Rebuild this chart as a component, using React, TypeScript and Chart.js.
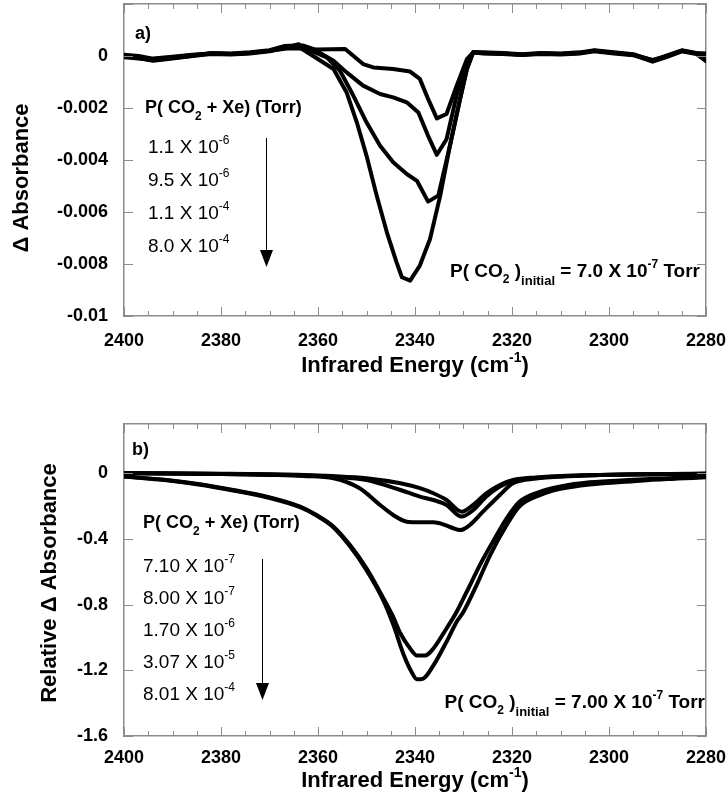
import React, { useEffect, useRef } from 'react';
import { Chart, registerables } from 'chart.js';

Chart.register(...registerables);

const FONT = '"Liberation Sans", Arial, Helvetica, sans-serif';
const FRAME_COLOR = '#8c8c8c';

// ---------- shared axis data ----------
const xTickValues = [2400, 2380, 2360, 2340, 2320, 2300, 2280];
const xMinorTicks = [2280, 2285, 2290, 2295, 2300, 2305, 2310, 2315, 2320, 2325, 2330, 2335, 2340, 2345, 2350, 2355, 2360, 2365, 2370, 2375, 2380, 2385, 2390, 2395, 2400];

// ---------- panel a) ----------
const topYTicks = [-0.01, -0.008, -0.006, -0.004, -0.002, 0, 0.002];
const topYTickLabels = ['-0.01', '-0.008', '-0.006', '-0.004', '-0.002', '0', ''];

const aX1 = [2400, 2397, 2394, 2390, 2386, 2382, 2378, 2374, 2370, 2366, 2362, 2360.3, 2354.4, 2350.7, 2348.6, 2344.5, 2341, 2339, 2337.3, 2335.5, 2333.5, 2331.4, 2329.3, 2328, 2326, 2322, 2318, 2314, 2310, 2306, 2303, 2299, 2295, 2291, 2288, 2285, 2282, 2280];
const aY1 = [0.00005, 0, -0.0001, -0.00003, 0.00005, 0.0001, 0.00008, 0.00012, 0.0002, 0.0003, 0.00028, 0.00025, 0.00027, -0.00031, -0.00044, -0.0005, -0.0006, -0.00088, -0.00165, -0.0024, -0.00223, -0.00114, -0.00012, 0.00014, 0.00012, 0.0001, 0.00006, 0.0001, 0.00008, 0.00012, 0.0002, 0.00012, 0.00005, -0.00015, 0, 0.0002, 0.0001, 0.0001];

const aX2 = [2400, 2397, 2394, 2390, 2386, 2382, 2378, 2374, 2370, 2366, 2363, 2361, 2356.8, 2354.1, 2350.7, 2347.2, 2344.5, 2341.7, 2339.3, 2337.3, 2335.5, 2333.5, 2331.4, 2329.3, 2328, 2326, 2322, 2318, 2314, 2310, 2306, 2303, 2299, 2295, 2291, 2288, 2285, 2282, 2280];
const aY2 = [0, -0.00005, -0.00012, -0.00005, 0.00003, 0.0001, 0.00008, 0.00012, 0.0002, 0.00035, 0.0004, 0.00027, -0.00018, -0.00063, -0.00114, -0.00146, -0.00159, -0.00178, -0.00217, -0.00307, -0.0038, -0.0032, -0.0015, -0.0002, 0.00014, 0.00012, 0.0001, 0.00005, 0.0001, 0.00008, 0.00012, 0.0002, 0.00012, 0.00005, -0.0002, 0, 0.0002, 0.0001, -0.0001];

const aX3 = [2400, 2397, 2394, 2390, 2386, 2382, 2378, 2374, 2370, 2366, 2364, 2362.3, 2358.2, 2355.5, 2352.7, 2350, 2347.2, 2344.5, 2341.7, 2339.6, 2337.3, 2335.2, 2332.8, 2330.7, 2329.3, 2328, 2326, 2322, 2318, 2314, 2310, 2306, 2303, 2299, 2295, 2291, 2288, 2285, 2282, 2280];
const aY3 = [-0.00005, -0.0001, -0.00015, -0.00008, 0, 0.00008, 0.00006, 0.0001, 0.00018, 0.00035, 0.00045, 0.00027, -0.00005, -0.00056, -0.00153, -0.00255, -0.00345, -0.00409, -0.00454, -0.0048, -0.0056, -0.00537, -0.00345, -0.00165, -0.0005, 0.00014, 0.0001, 0.00008, 0.00004, 0.00008, 0.00006, 0.0001, 0.00018, 0.0001, 0.00003, -0.00022, -0.00003, 0.00018, 0.00008, -0.0002];

const aX4 = [2400, 2397, 2394, 2390, 2386, 2382, 2378, 2374, 2370, 2367, 2364.4, 2361, 2356.8, 2354.1, 2352, 2350, 2347.9, 2345.8, 2343.8, 2342.7, 2341, 2339, 2336.9, 2334.8, 2332.8, 2330.7, 2329.3, 2328, 2326, 2322, 2318, 2314, 2310, 2306, 2303, 2299, 2295, 2291, 2288, 2285, 2282, 2280];
const aY4 = [0, -0.00008, -0.00018, -0.0001, 0, 0.00012, 0.0001, 0.00014, 0.00022, 0.00038, 0.0004, 0, -0.0005, -0.0014, -0.00255, -0.00383, -0.00537, -0.00678, -0.00794, -0.00851, -0.00864, -0.00806, -0.00704, -0.00537, -0.00345, -0.00165, -0.0005, 0.00014, 0.00014, 0.00012, 0.00007, 0.00012, 0.0001, 0.00014, 0.00022, 0.00014, 0.00007, -0.00018, 0.00002, 0.00022, 0.00012, 0.00008];

const topLegendValues = [['1.1 X 10', '-6'], ['9.5 X 10', '-6'], ['1.1 X 10', '-4'], ['8.0 X 10', '-4']];
const topInitial = ['7.0 X 10', '-7'];

// ---------- panel b) ----------
const botYTicks = [-1.6, -1.2, -0.8, -0.4, 0];
const botYTickLabels = ['-1.6', '-1.2', '-0.8', '-0.4', '0'];

const bXsmall = [2400, 2390, 2380, 2370, 2363, 2357, 2350, 2343, 2339, 2336.2, 2333.5, 2330.4, 2328, 2325.3, 2322.5, 2319.8, 2315, 2310, 2302, 2295, 2288, 2280];
const bY1 = [0, -0.001, -0.003, -0.006, -0.01, -0.017, -0.03, -0.061, -0.091, -0.122, -0.163, -0.234, -0.193, -0.122, -0.071, -0.041, -0.025, -0.017, -0.01, -0.006, -0.004, -0.003];
const bY2 = [0, -0.001, -0.004, -0.008, -0.012, -0.022, -0.041, -0.102, -0.142, -0.163, -0.193, -0.264, -0.224, -0.142, -0.081, -0.047, -0.028, -0.019, -0.011, -0.007, -0.005, -0.003];

const bX3 = [2400, 2390, 2380, 2370, 2363, 2356.8, 2351.4, 2347.2, 2344.5, 2341.7, 2339, 2336.2, 2334.2, 2332.1, 2330.7, 2328.7, 2326, 2322.5, 2319.8, 2315, 2310, 2302, 2295, 2288, 2280];
const bY3 = [0, -0.002, -0.005, -0.01, -0.016, -0.03, -0.091, -0.193, -0.254, -0.295, -0.299, -0.299, -0.311, -0.335, -0.346, -0.315, -0.234, -0.132, -0.061, -0.032, -0.02, -0.011, -0.007, -0.005, -0.003];

const bX4 = [2400, 2391.2, 2384.3, 2377.5, 2370.6, 2363.7, 2360.3, 2356.8, 2353.4, 2350, 2346.5, 2344.5, 2343, 2341, 2339.6, 2337.9, 2336.2, 2333.5, 2331.4, 2329.3, 2326.6, 2323.9, 2321.1, 2318.4, 2314, 2310, 2304, 2295, 2288, 2280];
const bY4 = [-0.02, -0.041, -0.067, -0.102, -0.142, -0.203, -0.254, -0.325, -0.437, -0.579, -0.762, -0.874, -0.976, -1.067, -1.11, -1.11, -1.067, -0.945, -0.843, -0.72, -0.558, -0.415, -0.274, -0.172, -0.11, -0.08, -0.055, -0.04, -0.03, -0.022];

const bX5 = [2400, 2391.2, 2384.3, 2377.5, 2370.6, 2363.7, 2360.3, 2356.8, 2353.4, 2350, 2346.5, 2344.5, 2342.4, 2340.7, 2339.6, 2338.3, 2336.2, 2333.5, 2331.4, 2330, 2327.3, 2324.5, 2321.1, 2318.4, 2314, 2310, 2304, 2295, 2288, 2280];
const bY5 = [-0.02, -0.043, -0.07, -0.105, -0.146, -0.207, -0.258, -0.33, -0.445, -0.59, -0.775, -0.92, -1.1, -1.21, -1.255, -1.25, -1.17, -1.026, -0.904, -0.843, -0.681, -0.498, -0.315, -0.2, -0.13, -0.095, -0.068, -0.048, -0.035, -0.025];

const botLegendValues = [['7.10 X 10', '-7'], ['8.00 X 10', '-7'], ['1.70 X 10', '-6'], ['3.07 X 10', '-5'], ['8.01 X 10', '-4']];
const botInitial = ['7.00 X 10', '-7'];

// ---------- helpers ----------
type Seg = { t: string; size: number; bold?: boolean; dy?: number };

function fontOf(s: Seg) {
  return (s.bold ? 'bold ' : '') + s.size + 'px ' + FONT;
}

function drawRich(ctx: CanvasRenderingContext2D, x: number, y: number, segs: Seg[], align: string) {
  let total = 0;
  const widths = segs.map((s) => {
    ctx.font = fontOf(s);
    const w = ctx.measureText(s.t).width;
    total += w;
    return w;
  });
  let cx = align === 'left' ? x : align === 'right' ? x - total : x - total / 2;
  ctx.textAlign = 'left';
  segs.forEach((s, i) => {
    ctx.font = fontOf(s);
    ctx.fillText(s.t, cx, y + (s.dy || 0));
    cx += widths[i];
  });
}

function zip(xs: number[], ys: number[]) {
  return xs.map((x, i) => ({ x, y: ys[i] }));
}

const LEFT = 124;
const RIGHT = 706;

function makeConfig(p: any): any {
  const ticksPlugin = {
    id: 'innerTicks',
    afterDraw(c: any) {
      const ctx = c.ctx;
      const a = c.chartArea;
      const sx = c.scales.x;
      const sy = c.scales.y;
      ctx.save();
      ctx.strokeStyle = FRAME_COLOR;
      ctx.lineWidth = 1;
      ctx.beginPath();
      xMinorTicks.forEach((v) => {
        const px = Math.round(sx.getPixelForValue(v)) + 0.5;
        const len = v % 20 === 0 ? 9 : 5;
        ctx.moveTo(px, a.bottom);
        ctx.lineTo(px, a.bottom - len);
        ctx.moveTo(px, a.top);
        ctx.lineTo(px, a.top + len);
      });
      p.yTicks.forEach((v: number) => {
        const py = Math.round(sy.getPixelForValue(v)) + 0.5;
        ctx.moveTo(a.left, py);
        ctx.lineTo(a.left + 9, py);
        ctx.moveTo(a.right, py);
        ctx.lineTo(a.right - 9, py);
      });
      ctx.stroke();
      ctx.restore();
    },
  };

  const textPlugin = {
    id: 'texts',
    afterDraw(c: any) {
      const ctx = c.ctx;
      ctx.save();
      ctx.fillStyle = '#000';
      ctx.textBaseline = 'alphabetic';
      drawRich(ctx, p.letterPos[0], p.letterPos[1], [{ t: p.letter + ')', size: 18, bold: true }], 'left');
      drawRich(ctx, p.headerPos[0], p.headerPos[1], [
        { t: 'P( CO', size: 18, bold: true },
        { t: '2', size: 12, bold: true, dy: 7 },
        { t: ' + Xe) (Torr)', size: 18, bold: true },
      ], 'left');
      p.legendValues.forEach((lv: string[], i: number) => {
        drawRich(ctx, p.legendX, p.legendBase + i * p.legendStep, [
          { t: lv[0], size: 19 },
          { t: lv[1], size: 12, dy: -9 },
        ], 'left');
      });
      const ar = p.arrow;
      ctx.fillRect(Math.round(ar.x - 0.5), ar.y0, 1, ar.y1 - ar.y0 + 1);
      ctx.beginPath();
      ctx.moveTo(ar.x - 6.5, ar.y1);
      ctx.lineTo(ar.x + 6.5, ar.y1);
      ctx.lineTo(ar.x, ar.y2);
      ctx.closePath();
      ctx.fill();
      drawRich(ctx, p.initialPos[0], p.initialPos[1], [
        { t: 'P( CO', size: 19, bold: true },
        { t: '2', size: 12, bold: true, dy: 6 },
        { t: ' )', size: 19, bold: true },
        { t: 'initial', size: 13, bold: true, dy: 8 },
        { t: ' = ' + p.initial[0], size: 19, bold: true },
        { t: p.initial[1], size: 12, bold: true, dy: -9 },
        { t: ' Torr', size: 19, bold: true },
      ], 'right');
      const a = c.chartArea;
      drawRich(ctx, (a.left + a.right) / 2, p.xTitleBase, [
        { t: 'Infrared Energy (cm', size: 22, bold: true },
        { t: '-1', size: 14, bold: true, dy: -10 },
        { t: ')', size: 22, bold: true },
      ], 'center');
      ctx.translate(p.yTitlePos[0], p.yTitlePos[1]);
      ctx.rotate(-Math.PI / 2);
      ctx.textBaseline = 'middle';
      drawRich(ctx, 0, 0, [{ t: p.yTitle, size: 22, bold: true }], 'center');
      ctx.restore();
    },
  };

  const datasets = p.series.map((data: any) => ({
    data,
    xAxisID: 'x',
    yAxisID: 'y',
    borderColor: '#000',
    backgroundColor: '#000',
    borderWidth: 4,
    pointRadius: 0,
    fill: false,
    borderJoinStyle: 'round',
    borderCapStyle: 'round',
    tension: p.smooth ? 0.4 : 0,
    cubicInterpolationMode: p.smooth ? 'monotone' : 'default',
  }));

  const tickFont = { family: FONT, size: 18, weight: 'bold' };
  const frameBorder = { display: true, color: FRAME_COLOR, width: 1.5 };

  return {
    type: 'line',
    data: { datasets },
    options: {
      responsive: false,
      animation: false,
      devicePixelRatio: 1,
      layout: { padding: { top: p.areaTop, right: p.width - RIGHT, left: 0, bottom: 0 } },
      plugins: { legend: { display: false }, tooltip: { enabled: false } },
      scales: {
        x: {
          type: 'linear',
          position: 'bottom',
          reverse: true,
          min: 2280,
          max: 2400,
          grid: { display: false, drawTicks: false },
          border: frameBorder,
          ticks: {
            font: tickFont,
            color: '#000',
            padding: p.xTickPadding,
            maxRotation: 0,
            autoSkip: false,
            callback: (v: number) => String(v),
          },
          afterBuildTicks: (s: any) => {
            s.ticks = xTickValues.slice().sort((m, n) => m - n).map((v) => ({ value: v }));
          },
          afterFit: (s: any) => {
            s.height = p.height - p.areaBottom;
            s.paddingLeft = 0;
            s.paddingRight = 0;
          },
        },
        y: {
          type: 'linear',
          position: 'left',
          min: p.yMin,
          max: p.yMax,
          grid: { display: false, drawTicks: false },
          border: frameBorder,
          ticks: {
            font: tickFont,
            color: '#000',
            padding: 16,
            autoSkip: false,
            callback: (v: number) => {
              const i = p.yTicks.findIndex((t: number) => Math.abs(t - v) < 1e-9);
              return i >= 0 ? p.yTickLabels[i] : '';
            },
          },
          afterBuildTicks: (s: any) => {
            s.ticks = p.yTicks.map((v: number) => ({ value: v }));
          },
          afterFit: (s: any) => {
            s.width = LEFT;
            s.paddingTop = 0;
            s.paddingBottom = 0;
          },
        },
        x2: {
          type: 'linear',
          position: 'top',
          reverse: true,
          min: 2280,
          max: 2400,
          grid: { display: false, drawTicks: false },
          border: frameBorder,
          ticks: { display: false },
          afterFit: (s: any) => {
            s.height = 0;
            s.paddingLeft = 0;
            s.paddingRight = 0;
          },
        },
        y2: {
          type: 'linear',
          position: 'right',
          min: p.yMin,
          max: p.yMax,
          grid: { display: false, drawTicks: false },
          border: frameBorder,
          ticks: { display: false },
          afterFit: (s: any) => {
            s.width = 0;
            s.paddingTop = 0;
            s.paddingBottom = 0;
          },
        },
      },
    },
    plugins: [ticksPlugin, textPlugin],
  };
}

const topSpec = {
  width: 728,
  height: 390,
  areaTop: 4,
  areaBottom: 316,
  yMin: -0.01,
  yMax: 0.002,
  yTicks: topYTicks,
  yTickLabels: topYTickLabels,
  xTickPadding: 14,
  smooth: false,
  series: [zip(aX1, aY1), zip(aX2, aY2), zip(aX3, aY3), zip(aX4, aY4)],
  letter: 'a',
  letterPos: [135, 39],
  headerPos: [145, 113],
  legendValues: topLegendValues,
  legendX: 148,
  legendBase: 153,
  legendStep: 33,
  arrow: { x: 266.5, y0: 138, y1: 250, y2: 267 },
  initial: topInitial,
  initialPos: [700, 277],
  xTitleBase: 372,
  yTitle: '\u0394 Absorbance',
  yTitlePos: [22, 178],
};

const botSpec = {
  width: 728,
  height: 417,
  areaTop: 34,
  areaBottom: 346,
  yMin: -1.6,
  yMax: 0.3,
  yTicks: botYTicks,
  yTickLabels: botYTickLabels,
  xTickPadding: 11,
  smooth: true,
  series: [zip(bXsmall, bY1), zip(bXsmall, bY2), zip(bX3, bY3), zip(bX4, bY4), zip(bX5, bY5)],
  letter: 'b',
  letterPos: [132, 65],
  headerPos: [143, 138],
  legendValues: botLegendValues,
  legendX: 143,
  legendBase: 182,
  legendStep: 32,
  arrow: { x: 262.5, y0: 169, y1: 293, y2: 310 },
  initial: botInitial,
  initialPos: [705, 318],
  xTitleBase: 397,
  yTitle: 'Relative \u0394 Absorbance',
  yTitlePos: [50, 193],
};

function Panel({ spec, top }: { spec: any; top: number }) {
  const ref = useRef<HTMLCanvasElement | null>(null);
  useEffect(() => {
    if (!ref.current) return;
    const chart = new Chart(ref.current, makeConfig(spec));
    return () => chart.destroy();
  }, [spec]);
  return (
    <canvas
      ref={ref}
      width={spec.width}
      height={spec.height}
      style={{ position: 'absolute', left: 0, top, width: spec.width, height: spec.height }}
    />
  );
}

export default function App() {
  return (
    <div style={{ position: 'absolute', left: 0, top: 0, width: 728, height: 807, background: '#fff', overflow: 'hidden' }}>
      <Panel spec={topSpec} top={0} />
      <Panel spec={botSpec} top={390} />
    </div>
  );
}
